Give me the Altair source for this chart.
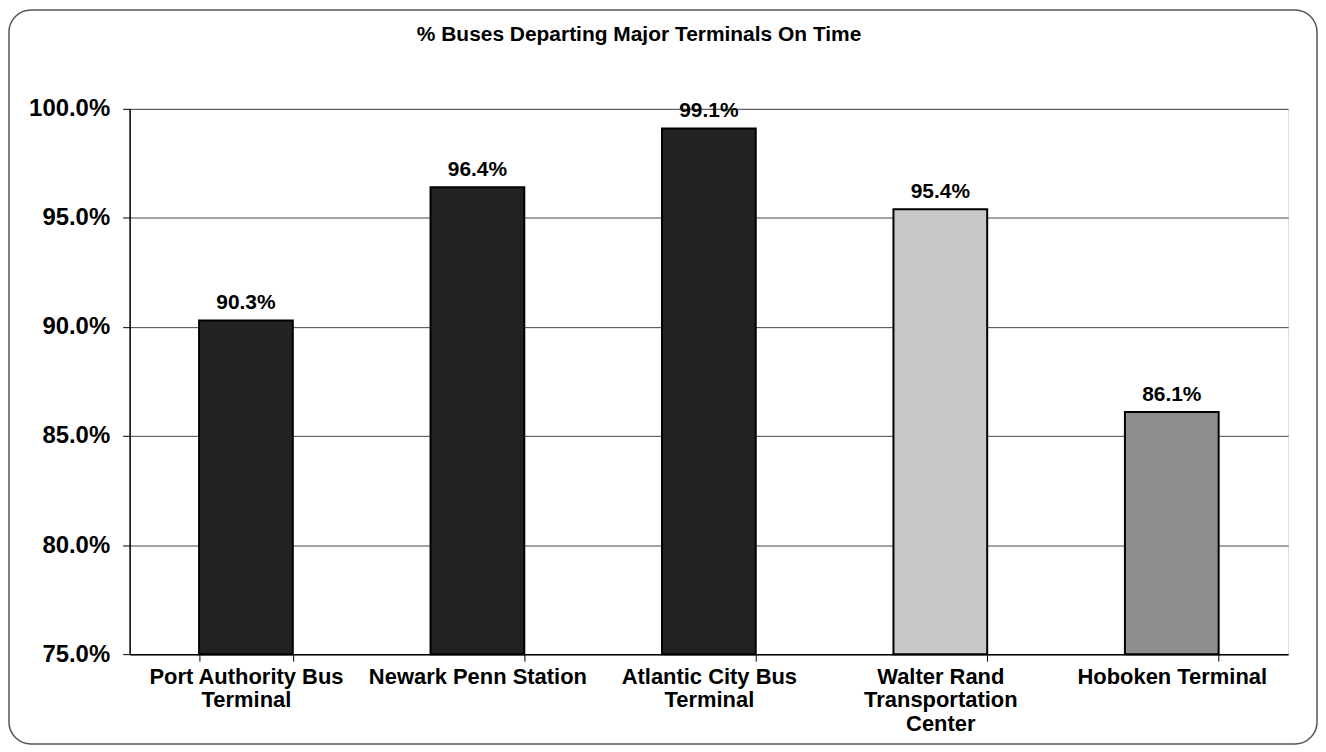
import json
import altair as alt
import pandas as pd

chart_title = "% Buses Departing Major Terminals On Time"
terminals = [
    "Port Authority Bus Terminal",
    "Newark Penn Station",
    "Atlantic City Bus Terminal",
    "Walter Rand Transportation Center",
    "Hoboken Terminal",
]
label_lines = [
    ["Port Authority Bus", "Terminal"],
    ["Newark Penn Station"],
    ["Atlantic City Bus", "Terminal"],
    ["Walter Rand", "Transportation", "Center"],
    ["Hoboken Terminal"],
]
on_time_pct = [90.3, 96.4, 99.1, 95.4, 86.1]
bar_colors = ["#222222", "#222222", "#222222", "#c8c8c8", "#8e8e8e"]
y_ticks = [75, 80, 85, 90, 95, 100]

FONT = "Liberation Sans"

df = pd.DataFrame({
    "terminal": terminals,
    "pct": on_time_pct,
    "color": bar_colors,
    "label": [f"{v:.1f}%" for v in on_time_pct],
})

label_map = "{" + ", ".join(
    f"{json.dumps(t)}: {json.dumps(l)}" for t, l in zip(terminals, label_lines)
) + "}[datum.value]"

x_enc = alt.X(
    "terminal:N",
    sort=terminals,
    scale=alt.Scale(paddingInner=0.595, paddingOuter=0.3),
    axis=alt.Axis(
        title=None, labelAngle=0, labelExpr=label_map, labelFontSize=22,
        labelFontWeight="bold", labelColor="black", labelFont=FONT,
        tickBand="extent", tickSize=7, tickColor="black", domainColor="black",
        domainWidth=1.5, labelPadding=5, labelLineHeight=24, labelLimit=400,
        labelBaseline="top",
    ),
)
y_enc = alt.Y(
    "pct:Q",
    scale=alt.Scale(domain=[75, 100], nice=False, zero=False),
    axis=alt.Axis(
        title=None, values=y_ticks, labelExpr="format(datum.value, '.1f') + '%'",
        labelFontSize=24, labelFontWeight="bold", labelColor="black", labelFont=FONT,
        gridColor="#444444", gridWidth=1, tickSize=7, tickColor="black",
        domainColor="black", domainWidth=1.5, labelPadding=13,
    ),
)

bars = alt.Chart(df).mark_bar(stroke="black", strokeWidth=2).encode(
    x=x_enc, y=y_enc, y2=alt.datum(75),
    color=alt.Color("color:N", scale=None),
)
values = alt.Chart(df).mark_text(
    baseline="bottom", dy=-7, fontSize=21, fontWeight="bold", font=FONT, color="black"
).encode(x=alt.X("terminal:N", sort=terminals), y="pct:Q", text="label:N")

title = alt.Chart(pd.DataFrame({"t": [chart_title]})).mark_text(
    baseline="alphabetic", align="center", fontSize=21, fontWeight="bold", font=FONT, color="black"
).encode(x=alt.value(511), y=alt.value(-68), text="t:N")

border = alt.Chart(pd.DataFrame({"b": [1]})).mark_rect(
    fillOpacity=0, stroke="#555555", strokeWidth=1.5, cornerRadius=22
).encode(x=alt.value(-121), x2=alt.value(1191), y=alt.value(-99), y2=alt.value(637))

chart = alt.layer(border, bars, values, title).properties(
    width=1162, height=547,
    autosize=alt.AutoSizeParams(type="none"),
    padding={"left": 122, "top": 100, "right": 30, "bottom": 92},
).configure_view(stroke="#444444", strokeWidth=1).configure(background="white")

chart.save("out.html", embed_options={"renderer": "svg", "actions": False})
